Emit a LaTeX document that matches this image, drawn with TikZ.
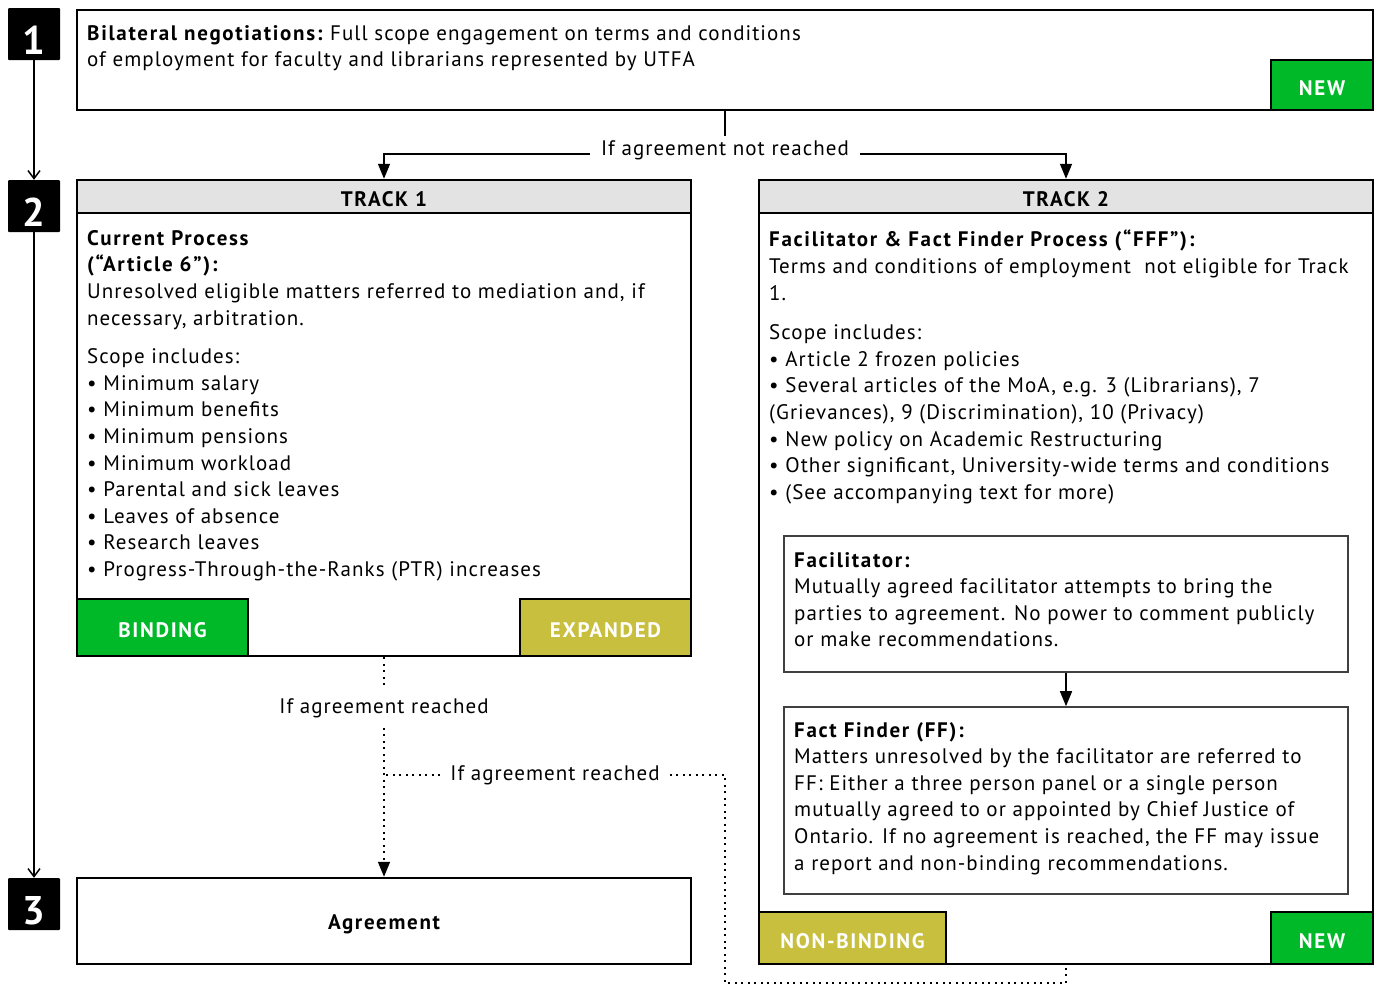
\documentclass[tikz,border=0pt]{standalone}
\usepackage{fontspec}
\setmainfont{PT Sans}[LetterSpace=5, BoldFeatures={LetterSpace=8}]
\usetikzlibrary{arrows.meta}
\definecolor{tagGreen}{RGB}{0,185,40}
\definecolor{tagOlive}{RGB}{200,191,62}
\definecolor{headGray}{RGB}{227,227,227}
\tikzset{
  stepnum/.style={fill=black, text=white, minimum size=52pt, inner sep=0pt, rounded corners=1pt,
    text height=40pt, text depth=0pt, font=\fontsize{40}{40}\selectfont\bfseries},
  box/.style={draw, line width=2.5pt, inner sep=0pt},
  subbox/.style={draw=black!75, line width=1.6pt, inner sep=0pt},
  head/.style={box, fill=headGray, text height=20.5pt, text depth=0pt, font=\fontsize{21}{24}\selectfont\bfseries},
  tag/.style={box, text=white, text height=20.5pt, text depth=0pt, font=\fontsize{21}{24}\selectfont\bfseries},
  txt/.style={anchor=north west, inner sep=0pt, align=left},
  conn/.style={line width=1.5pt},
  dots/.style={line width=1.6pt, dash pattern=on 2pt off 4.5pt},
  tip/.style={-{Triangle[width=12pt,length=15pt]}},
  opentip/.style={-{Straight Barb[width=12pt,length=8pt]}}
}
\begin{document}
\begin{tikzpicture}[x=1pt, y=-1pt, font=\fontsize{21}{26.6}\selectfont]
\useasboundingbox (0,0) rectangle (1380,985);

% step numbers
\node[stepnum] (num1) at (34,34) {1};
\node[stepnum] (num2) at (34,206) {2};
\node[stepnum] (num3) at (34,904) {3};
\draw[conn, opentip] (num1) -- (num2);
\draw[conn, opentip] (num2) -- (num3);

% bilateral negotiations
\node[box, minimum width=1296pt, minimum height=100pt] (bilat) at (725,60) {};
\node[txt] (bilattxt) at (87,25) {\textbf{Bilateral negotiations:}\hspace{6pt}Full scope engagement on terms and conditions\\
of employment for faculty and librarians represented by UTFA};
\node[tag, fill=tagGreen, minimum width=102pt, minimum height=50pt] (new1) at (1322,85) {NEW};

% track 1
\node[box, minimum width=614pt, minimum height=476pt] (body1) at (384,418) {};
\node[head, minimum width=614pt, minimum height=33pt] (head1) at (384,196.5) {TRACK 1};
\node[txt] (track1txt) at (87,230) {\textbf{Current Process}\\
\textbf{(“Article 6”):}\\
Unresolved eligible matters referred to mediation and, if\\
necessary, arbitration.\\[12pt]
Scope includes:\\
\textbullet{} Minimum salary\\
\textbullet{} Minimum benefits\\
\textbullet{} Minimum pensions\\
\textbullet{} Minimum workload\\
\textbullet{} Parental and sick leaves\\
\textbullet{} Leaves of absence\\
\textbullet{} Research leaves\\
\textbullet{} Progress-Through-the-Ranks (PTR) increases};
\node[tag, fill=tagGreen, minimum width=171pt, minimum height=57pt] (bind) at (162.5,627.5) {BINDING};
\node[tag, fill=tagOlive, minimum width=171pt, minimum height=57pt] (expand) at (605.5,627.5) {EXPANDED};

% track 2
\node[box, minimum width=614pt, minimum height=784pt] (body2) at (1066,572) {};
\node[head, minimum width=614pt, minimum height=33pt] (head2) at (1066,196.5) {TRACK 2};
\node[txt] (track2txt) at (769,230) {\textbf{Facilitator \& Fact Finder Process (“FFF”):}\\
Terms and conditions of employment\ \ not eligible for Track\\
1.\\[13pt]
Scope includes:\\
\textbullet{} Article 2 frozen policies\\
\textbullet{} Several articles of the MoA, e.g. 3 (Librarians), 7\\
(Grievances), 9 (Discrimination), 10 (Privacy)\\
\textbullet{} New policy on Academic Restructuring\\
\textbullet{} Other significant, University-wide terms and conditions\\
\textbullet{} (See accompanying text for more)};
\node[subbox, minimum width=564pt, minimum height=136pt] (fac) at (1066,604) {};
\node[txt] (factxt) at (794,552) {\textbf{Facilitator:}\\
Mutually agreed facilitator attempts to bring the\\
parties to agreement. No power to comment publicly\\
or make recommendations.};
\node[subbox, minimum width=564pt, minimum height=187pt] (ff) at (1066,800.5) {};
\node[txt] (fftxt) at (794,722) {\textbf{Fact Finder (FF):}\\
Matters unresolved by the facilitator are referred to\\
FF: Either a three person panel or a single person\\
mutually agreed to or appointed by Chief Justice of\\
Ontario. If no agreement is reached, the FF may issue\\
a report and non-binding recommendations.};
\draw[conn, tip] (fac) -- (ff);
\node[tag, fill=tagOlive, minimum width=187pt, minimum height=52pt] (nonbind) at (852.5,938) {NON-BINDING};
\node[tag, fill=tagGreen, minimum width=102pt, minimum height=52pt] (new2) at (1322,938) {NEW};

% agreement
\node[box, minimum width=614pt, minimum height=86pt, text height=16.5pt, text depth=0pt,
  font=\fontsize{21}{24}\selectfont\bfseries] (agree) at (384,921) {Agreement};

% connectors
\node[inner xsep=11pt, inner ysep=4pt] (ifnot) at (725,150) {If agreement not reached};
\draw[conn] (bilat.south) -- (ifnot.north);
\draw[conn, tip] ([yshift=-4pt]ifnot.west) -| (head1.north);
\draw[conn, tip] ([yshift=-4pt]ifnot.east) -| (head2.north);

\node[inner xsep=4pt, inner ysep=10pt] (reach1) at (384,708) {If agreement reached};
\draw[dots] (body1.south) -- (reach1.north);
\draw[dots, tip] (reach1.south) -- (agree.north);

\node[inner xsep=10pt, inner ysep=4pt] (reach2) at (555,775) {If agreement reached};
\coordinate (loop) at (725,983);
\draw[dots] (reach2.west) -- (reach1.south |- reach2.west);
\draw[dots] (reach2.east) -| (loop) -| (body2.south);
\end{tikzpicture}
\end{document}
